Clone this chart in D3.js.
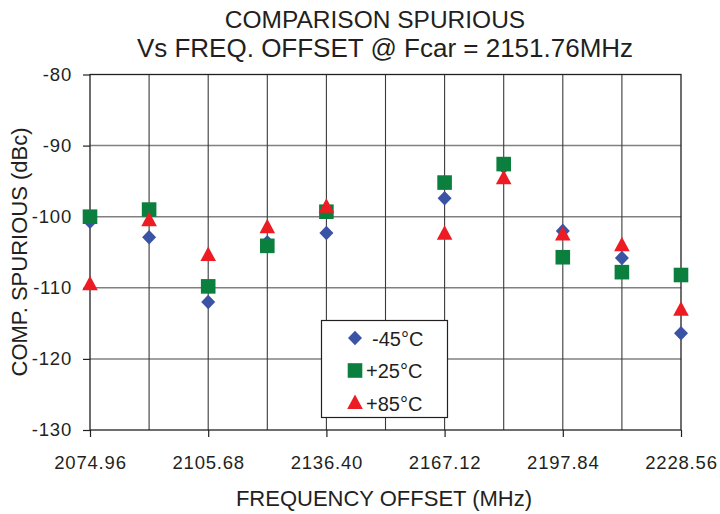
<!DOCTYPE html>
<html>
<head>
<meta charset="utf-8">
<script src="https://cdn.jsdelivr.net/npm/d3@7"></script>
<style>
  html, body { margin: 0; padding: 0; background: #fff; }
  text { font-family: "Liberation Sans", Arial, Helvetica, sans-serif; fill: #231f20; }
</style>
</head>
<body>
<svg id="chart" width="720" height="514"></svg>
<script>
// ---- data ----
const freqs = [2074.96, 2090.32, 2105.68, 2121.04, 2136.40, 2151.76, 2167.12, 2182.48, 2197.84, 2213.20, 2228.56];
const minus45 = [-100.7, -102.9, -112.0, -103.6, -102.3, null, -97.4, -93.0, -102.0, -105.8, -116.4];
const plus25  = [-100.0, -99.0, -109.8, -104.1, -99.3, null, -95.2, -92.6, -105.7, -107.8, -108.2];
const plus85  = [-109.5, -100.5, -105.4, -101.5, -98.6, null, -102.4, -94.6, -102.5, -104.0, -113.1];
const xTickLabels = ["2074.96", "2105.68", "2136.40", "2167.12", "2197.84", "2228.56"];
const xTickValues = [2074.96, 2105.68, 2136.40, 2167.12, 2197.84, 2228.56];
const yTicks = [-130, -120, -110, -100, -90, -80];
const yTickLabels = ["-130", "-120", "-110", "-100", "-90", "-80"];
const seriesNames = ["-45°C", "+25°C", "+85°C"];
const seriesColors = ["#3a53a4", "#0b7f3e", "#ed1c24"];
const seriesShapes = ["diamond", "square", "triangle"];
const titleLines = ["COMPARISON SPURIOUS", "Vs FREQ. OFFSET @ Fcar = 2151.76MHz"];
const xTitle = "FREQUENCY OFFSET (MHz)";
const yTitle = "COMP. SPURIOUS (dBc)";

// ---- layout ----
const L = 90, R = 681, T = 74.5, B = 430;
const svg = d3.select("#chart");
const x = d3.scaleLinear().domain([2074.96, 2228.56]).range([L, R]);
const y = d3.scaleLinear().domain([-130, -80]).range([B, T]);

// gridlines
const g = svg.append("g");
g.selectAll("line.h").data(yTicks.slice(1, -1)).enter().append("line")
  .attr("x1", L).attr("x2", R).attr("y1", d => y(d)).attr("y2", d => y(d))
  .attr("stroke", "#808080").attr("stroke-width", 1.5);
g.selectAll("line.v").data(freqs.slice(1, -1)).enter().append("line")
  .attr("y1", T).attr("y2", B).attr("x1", d => x(d)).attr("x2", d => x(d))
  .attr("stroke", "#3a3a3a").attr("stroke-width", 1.1);
svg.append("rect").attr("x", L).attr("y", T).attr("width", R - L).attr("height", B - T)
  .attr("fill", "none").attr("stroke", "#231f20").attr("stroke-width", 1.3);

// axes
const yAxis = d3.axisLeft(y).tickValues(yTicks).tickSize(7).tickPadding(11)
  .tickFormat((d, i) => yTickLabels[i]);
const ya = svg.append("g").attr("transform", `translate(${L},0)`).call(yAxis);
const xAxis = d3.axisBottom(x).tickValues(xTickValues).tickSize(7).tickPadding(15)
  .tickFormat((d, i) => xTickLabels[i]);
const xa = svg.append("g").attr("transform", `translate(0,${B})`).call(xAxis);
[ya, xa].forEach(a => {
  a.select(".domain").remove();
  a.selectAll(".tick line").attr("stroke", "#231f20").attr("stroke-width", 1.2);
  a.selectAll(".tick text").attr("font-size", 18.5).attr("fill", "#231f20")
    .style("font-family", '"Liberation Sans", Arial, sans-serif').style("letter-spacing", "0.8px");
});
xa.selectAll(".tick text").attr("dy", "0.9em");

// symbols
function shapePath(shape) {
  if (shape === "diamond") return "M0,-7.3L7,0L0,7.3L-7,0Z";
  if (shape === "square") return "M-7.3,-7.3H7.3V7.3H-7.3Z";
  return "M0,-8.5L7.8,6L-7.8,6Z";
}
const allSeries = [minus45, plus25, plus85];
allSeries.forEach((vals, si) => {
  svg.append("g").selectAll("path").data(vals.map((v, i) => ({f: freqs[i], v})).filter(d => d.v !== null))
    .enter().append("path")
    .attr("d", shapePath(seriesShapes[si]))
    .attr("transform", d => `translate(${x(d.f)},${y(d.v)})`)
    .attr("fill", seriesColors[si]);
});

// legend
const lg = svg.append("g");
lg.append("rect").attr("x", 321.5).attr("y", 320.5).attr("width", 126).attr("height", 97)
  .attr("fill", "#fff").attr("stroke", "#231f20").attr("stroke-width", 1.2);
const legY = [338, 370.5, 403];
const legTextX = [372, 366, 366];
seriesNames.forEach((n, i) => {
  lg.append("path").attr("d", shapePath(seriesShapes[i]))
    .attr("transform", `translate(355,${legY[i]})`).attr("fill", seriesColors[i]);
  lg.append("text").attr("x", legTextX[i]).attr("y", legY[i] + 7.5)
    .attr("font-size", 20).text(n);
});

// titles
svg.append("text").attr("x", 375).attr("y", 28).attr("text-anchor", "middle")
  .attr("font-size", 24.5).text(titleLines[0]);
svg.append("text").attr("x", 385).attr("y", 57).attr("text-anchor", "middle")
  .attr("font-size", 26).text(titleLines[1]);
svg.append("text").attr("x", 384).attr("y", 506).attr("text-anchor", "middle")
  .attr("font-size", 22).text(xTitle);
svg.append("text").attr("transform", "translate(27,252) rotate(-90)").attr("text-anchor", "middle")
  .attr("font-size", 22).text(yTitle);
</script>
</body>
</html>
